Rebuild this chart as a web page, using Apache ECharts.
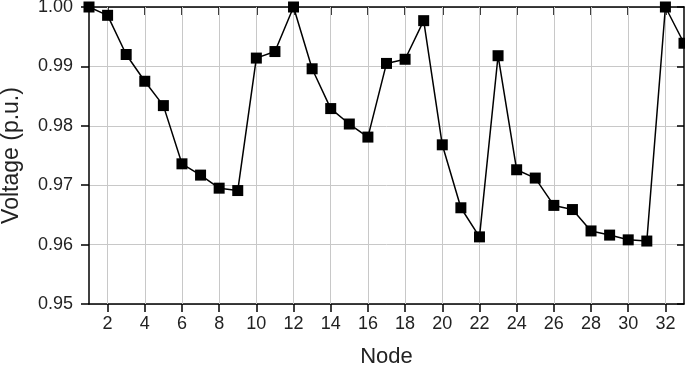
<!DOCTYPE html>
<html><head><meta charset="utf-8">
<script src="https://cdn.jsdelivr.net/npm/echarts@6/dist/echarts.min.js"></script>
<style>html,body{margin:0;padding:0;background:#fff}#c{width:685px;height:370px}</style>
</head><body><div id="c"></div>
<script>
const nodes = [1,2,3,4,5,6,7,8,9,10,11,12,13,14,15,16,17,18,19,20,21,22,23,24,25,26,27,28,29,30,31,32,33];
const voltage = [1.0000,0.9986,0.9920,0.9875,0.9834,0.9736,0.9717,0.9695,0.9691,0.9914,0.9925,1.0000,0.9896,0.9829,0.9803,0.9781,0.9905,0.9912,0.9977,0.9768,0.9662,0.9613,0.9918,0.9726,0.9712,0.9666,0.9659,0.9623,0.9616,0.9608,0.9606,1.0000,0.9939];
const xTicks = [2,4,6,8,10,12,14,16,18,20,22,24,26,28,30,32];
const yTicks = [0.95,0.96,0.97,0.98,0.99,1.00];

const font = 'Liberation Sans, Arial, sans-serif';
const chart = echarts.init(document.getElementById('c'));
const lineStyle = {color:'#000', width:1.5};
chart.setOption({
  animation:false,
  grid:{left:89, right:1, top:7, bottom:66, containLabel:false, outerBoundsMode:'none'},
  xAxis:[{
    type:'value', min:1, max:33, name:'Node', nameLocation:'middle', nameGap:42,
    nameTextStyle:{fontFamily:font, fontSize:22, color:'#222'},
    axisLine:{show:true, onZero:false, lineStyle:lineStyle},
    axisTick:{show:true, inside:false, length:8, customValues:xTicks, lineStyle:lineStyle},
    axisLabel:{customValues:xTicks, fontFamily:font, fontSize:18, color:'#222', margin:11},
    splitLine:{show:false}
  },{
    type:'value', min:1, max:33, position:'top',
    axisLine:{show:true, onZero:false, lineStyle:lineStyle},
    axisTick:{show:true, inside:true, length:8, customValues:xTicks, lineStyle:lineStyle},
    axisLabel:{show:false},
    splitLine:{show:false}
  }],
  yAxis:[{
    type:'value', min:0.95, max:1.0, interval:0.01, name:'Voltage (p.u.)', nameLocation:'middle', nameGap:66,
    nameTextStyle:{fontFamily:font, fontSize:23, color:'#222'},
    axisLine:{show:true, onZero:false, lineStyle:lineStyle},
    axisTick:{show:true, inside:false, length:8, lineStyle:lineStyle},
    axisLabel:{fontFamily:font, fontSize:18, color:'#222', margin:16, formatter:v=>v.toFixed(2)},
    splitLine:{show:true, lineStyle:{color:'#c8c8c8', width:1}}
  },{
    type:'value', min:0.95, max:1.0, interval:0.01, position:'right',
    axisLine:{show:true, onZero:false, lineStyle:lineStyle},
    axisTick:{show:true, inside:true, length:7, lineStyle:lineStyle},
    axisLabel:{show:false},
    splitLine:{show:false}
  }],
  series:[{
    type:'line', xAxisIndex:1, yAxisIndex:0,
    data:[], silent:true, showSymbol:false,
    markLine:{silent:true, symbol:'none', label:{show:false},
      lineStyle:{color:'#c8c8c8', width:1, type:'solid'},
      data:xTicks.map(v=>({xAxis:v}))}
  },{
    type:'line', xAxisIndex:0, yAxisIndex:0,
    data:nodes.map((n,i)=>[n, voltage[i]]),
    symbol:'rect', symbolSize:11, clip:false,
    itemStyle:{color:'#000'},
    lineStyle:{color:'#000', width:1.5},
    z:5
  }]
});
</script></body></html>
